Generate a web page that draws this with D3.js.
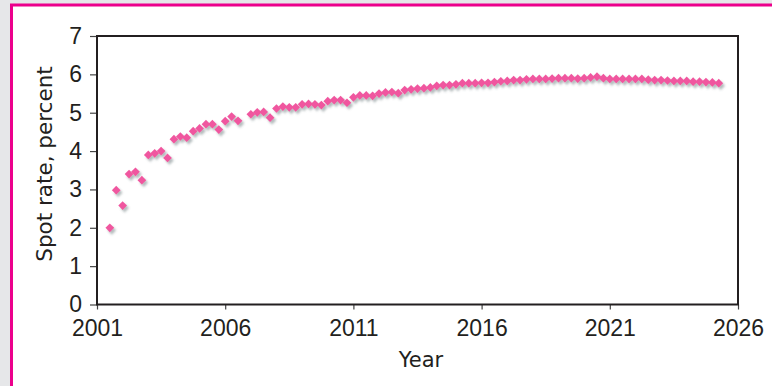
<!DOCTYPE html>
<html>
<head>
<meta charset="utf-8">
<script src="https://cdn.jsdelivr.net/npm/d3@7"></script>
<style>
  html, body { margin: 0; padding: 0; background: #e6e7e9; }
  svg { display: block; }
</style>
</head>
<body>
<svg id="chart" width="772" height="386"></svg>
<script>
// ---- data ----
const years = [
  2001.5, 2001.75, 2002.0, 2002.25, 2002.5, 2002.75, 2003.0, 2003.25, 2003.5, 2003.75,
  2004.0, 2004.25, 2004.5, 2004.75, 2005.0, 2005.25, 2005.5, 2005.75, 2006.0, 2006.25,
  2006.5, 2007.0, 2007.25, 2007.5, 2007.75, 2008.0, 2008.25, 2008.5, 2008.75, 2009.0,
  2009.25, 2009.5, 2009.75, 2010.0, 2010.25, 2010.5, 2010.75, 2011.0, 2011.25, 2011.5,
  2011.75, 2012.0, 2012.25, 2012.5, 2012.75, 2013.0, 2013.25, 2013.5, 2013.75, 2014.0,
  2014.25, 2014.5, 2014.75, 2015.0, 2015.25, 2015.5, 2015.75, 2016.0, 2016.25, 2016.5,
  2016.75, 2017.0, 2017.25, 2017.5, 2017.75, 2018.0, 2018.25, 2018.5, 2018.75, 2019.0,
  2019.25, 2019.5, 2019.75, 2020.0, 2020.25, 2020.5, 2020.75, 2021.0, 2021.25, 2021.5,
  2021.75, 2022.0, 2022.25, 2022.5, 2022.75, 2023.0, 2023.25, 2023.5, 2023.75, 2024.0,
  2024.25, 2024.5, 2024.75, 2025.0, 2025.25
];
const spotRates = [
  2.00, 2.98, 2.58, 3.40, 3.46, 3.24, 3.90, 3.94, 4.00, 3.82,
  4.31, 4.38, 4.35, 4.52, 4.59, 4.70, 4.70, 4.56, 4.78, 4.90,
  4.79, 4.96, 5.01, 5.02, 4.87, 5.11, 5.16, 5.14, 5.14, 5.22,
  5.23, 5.22, 5.20, 5.30, 5.33, 5.33, 5.26, 5.40, 5.45, 5.45,
  5.44, 5.50, 5.53, 5.54, 5.51, 5.59, 5.61, 5.63, 5.64, 5.66,
  5.70, 5.72, 5.72, 5.74, 5.77, 5.77, 5.77, 5.78, 5.78, 5.80,
  5.82, 5.83, 5.85, 5.85, 5.87, 5.88, 5.88, 5.88, 5.89, 5.90,
  5.90, 5.90, 5.89, 5.90, 5.92, 5.94, 5.90, 5.88, 5.88, 5.88,
  5.88, 5.88, 5.88, 5.86, 5.85, 5.85, 5.84, 5.83, 5.83, 5.83,
  5.81, 5.81, 5.80, 5.79, 5.77
];
const xTicks = [2001, 2006, 2011, 2016, 2021, 2026];
const yTicks = [0, 1, 2, 3, 4, 5, 6, 7];
const xTitle = "Year";
const yTitle = "Spot rate, percent";

// ---- layout ----
const svg = d3.select("#chart");
const W = 772, H = 386;
const plot = { left: 97, right: 738, top: 36, bottom: 304.5 };
const tickFont = "'Liberation Sans Narrow', 'Liberation Sans', Arial, sans-serif";
const titleFont = "'DejaVu Sans', sans-serif";
const ink = "#231f20";

// panel background: white box with pink border top & left
svg.append("rect").attr("x", 11.5).attr("y", 5).attr("width", W).attr("height", H)
  .attr("fill", "#ffffff").attr("stroke", "#ec008c").attr("stroke-width", 3);

const defs = svg.append("defs");
const f = defs.append("filter").attr("id", "shadow")
  .attr("x", "-50%").attr("y", "-50%").attr("width", "200%").attr("height", "200%");
f.append("feDropShadow").attr("dx", 2).attr("dy", 2.5).attr("stdDeviation", 1.3)
  .attr("flood-color", "#5a6a70").attr("flood-opacity", 0.45);

const x = d3.scaleLinear().domain([2001, 2026]).range([plot.left, plot.right]);
const y = d3.scaleLinear().domain([0, 7]).range([plot.bottom, plot.top]);

// axes
const yAxis = svg.append("g").attr("transform", `translate(${plot.left},0)`)
  .call(d3.axisLeft(y).tickValues(yTicks).tickSize(7).tickPadding(8).tickFormat(d3.format("d")));
const xAxis = svg.append("g").attr("transform", `translate(0,${plot.bottom})`)
  .call(d3.axisBottom(x).tickValues(xTicks).tickSize(5).tickPadding(10).tickFormat(d3.format("d")));

[yAxis, xAxis].forEach(g => {
  g.select(".domain").remove();
  g.selectAll(".tick line").attr("stroke", "#444").attr("stroke-width", 1.2);
  g.selectAll(".tick text").attr("fill", ink).style("font-family", tickFont).style("font-size", "23px");
});

// frame
svg.append("rect")
  .attr("x", plot.left).attr("y", plot.top)
  .attr("width", plot.right - plot.left).attr("height", plot.bottom - plot.top)
  .attr("fill", "none").attr("stroke", ink).attr("stroke-width", 2);

// points
const data = years.map((yr, i) => ({ yr, v: spotRates[i] }));
const diamond = d3.symbol().type(d3.symbolSquare).size(38);
svg.append("g").attr("filter", "url(#shadow)")
  .selectAll("path").data(data).join("path")
  .attr("d", diamond)
  .attr("transform", d => `translate(${x(d.yr)},${y(d.v)}) rotate(45)`)
  .attr("fill", "#f0579f");

// titles
svg.append("text")
  .attr("x", 421).attr("y", 367)
  .attr("text-anchor", "middle").attr("fill", ink)
  .style("font-family", titleFont).style("font-size", "21px").text(xTitle);

svg.append("text")
  .attr("transform", `translate(52,164) rotate(-90)`)
  .attr("text-anchor", "middle").attr("fill", ink)
  .style("font-family", titleFont).style("font-size", "21.5px").text(yTitle);
</script>
</body>
</html>
